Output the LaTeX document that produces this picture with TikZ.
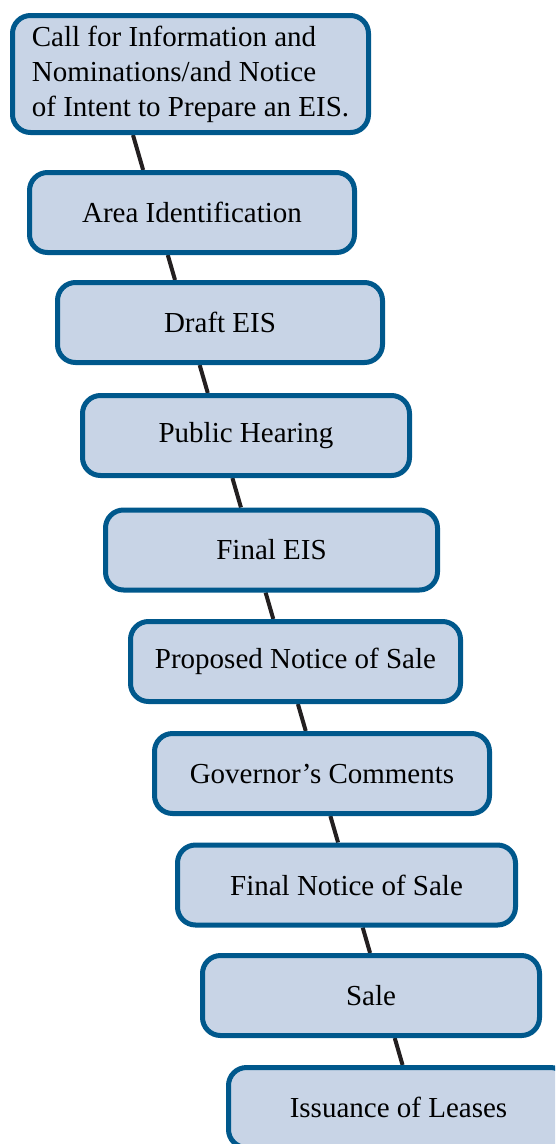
\documentclass[tikz,border=0pt]{standalone}
\usepackage{fontspec}
\setmainfont{Liberation Serif}
\usetikzlibrary{backgrounds}
\definecolor{boxblue}{RGB}{0, 88, 140}
\definecolor{boxfill}{RGB}{200, 212, 230}
\definecolor{linkgray}{RGB}{35, 31, 32}
\tikzstyle{link} = [
  line width=4pt,
  linkgray,
]

\begin{document}
\begin{tikzpicture}[x=1pt, y=-1pt,
    stage/.style={draw=boxblue, fill=boxfill, line width=5pt,
                  rounded corners=18pt, minimum height=80pt,
                  inner sep=0pt, font=\fontsize{29}{35}\selectfont}]
    \useasboundingbox (0,0) rectangle (555,1144);
    \clip (0,0) rectangle (555,1144);
    \node [stage, minimum width=356pt, minimum height=117pt, align=left]
          (s1) at (190.5,74) {Call for Information and\\
                              Nominations/and Notice\\
                              of Intent to Prepare an EIS.};
    \node [stage, minimum width=325pt] (s2) at (192,212.5) {Area Identification};
    \node [stage, minimum width=325pt] (s3) at (220,322.5) {Draft EIS};
    \node [stage, minimum width=327pt] (s4) at (246,435.5) {Public Hearing};
    \node [stage, minimum width=332pt] (s5) at (271.5,550) {Final EIS};
    \node [stage, minimum width=330pt] (s6) at (295.5,661.5) {Proposed Notice of Sale};
    \node [stage, minimum width=335pt] (s7) at (322,773.5) {Governor’s Comments};
    \node [stage, minimum width=338pt] (s8) at (346.5,885) {Final Notice of Sale};
    \node [stage, minimum width=337pt] (s9) at (371,995.5) {Sale};
    \node [stage, minimum width=340pt] (s10) at (398.5,1107.5) {Issuance of Leases};
    % the chain runs on one straight slant behind the boxes
    \coordinate (top) at (133,135);
    \coordinate (bot) at (402,1063);
    \begin{scope}[on background layer]
      \foreach \i/\j in {1/2, 2/3, 3/4, 4/5, 5/6, 6/7, 7/8, 8/9, 9/10}
        \draw [link] (intersection of top--bot and s\i.south west--s\i.south east)
                  -- (intersection of top--bot and s\j.north west--s\j.north east);
    \end{scope}
\end{tikzpicture}
\end{document}
